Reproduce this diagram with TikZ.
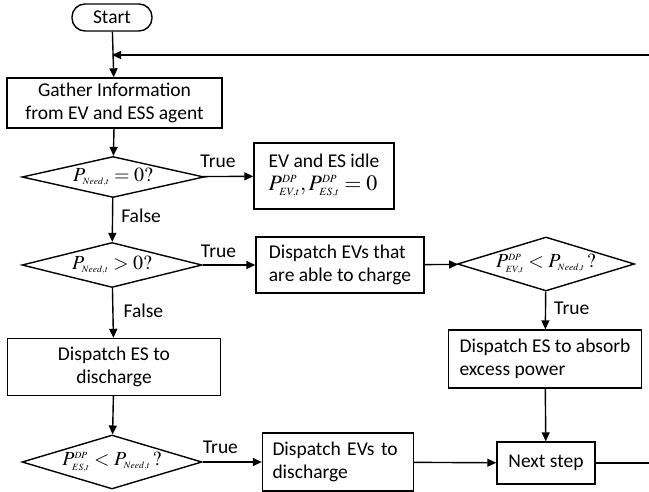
\documentclass[tikz,border=0pt]{standalone}
\usepackage{mathptmx}
\usepackage[no-math]{fontspec}
\setmainfont{Carlito}
\DeclareMathSizes{18}{20}{9.5}{7}
\DeclareMathSizes{19.5}{22}{11}{8}
\usetikzlibrary{shapes.geometric,arrows.meta}
\begin{document}
\begin{tikzpicture}[x=1pt,y=-1pt,
  font=\fontsize{19.5}{23}\selectfont,
  box/.style={draw, line width=1.4pt, inner sep=0pt, align=left},
  cbox/.style={draw, line width=1.4pt, inner sep=0pt, align=center},
  dec/.style={draw, diamond, line width=1.4pt, inner sep=0pt},
  dtext/.style={inner sep=0pt, font=\fontsize{18}{21}\selectfont},
  term/.style={draw, rounded corners=13pt, line width=1.4pt, inner sep=0pt},
  lab/.style={inner sep=0pt},
  arr/.style={-{Triangle[length=9pt,width=8pt]}, line width=1.4pt}]
\useasboundingbox (0,0) rectangle (649,492);

\node[term, minimum width=80pt, minimum height=27pt] (start) at (112,17.5) {Start};
\node[cbox, minimum width=215pt, minimum height=50pt] (gather) at (114.5,103) {Gather Information\\from EV and ESS agent};
\node[dec, minimum width=182pt, minimum height=41pt] (d1) at (113,177) {};
\node[dtext] (d1t) at (d1) {$P_{Need,t} = 0?$};
\node[box, minimum width=140pt, minimum height=66pt] (idle) at (324,176) {EV and ES idle\\$P_{EV,t}^{DP}, P_{ES,t}^{DP} = 0$};
\node[dec, minimum width=180pt, minimum height=45pt] (d2) at (112,265) {};
\node[dtext] (d2t) at (d2) {$P_{Need,t} > 0?$};
\node[box, minimum width=168pt, minimum height=56pt] (evc) at (340,265) {Dispatch EVs that\\are able to charge};
\node[dec, minimum width=177pt, minimum height=54pt] (d3) at (546,264) {};
\node[dtext] (d3t) at (d3) {$P_{EV,t}^{DP} < P_{Need,t}\,?$};
\node[box, minimum width=193pt, minimum height=58pt] (absorb) at (545,359) {Dispatch ES to absorb\\excess power};
\node[cbox, minimum width=213pt, minimum height=57pt] (esd) at (114,367) {Dispatch ES to\\discharge};
\node[dec, minimum width=180pt, minimum height=54pt] (d4) at (112,462) {};
\node[dtext] (d4t) at (d4) {$P_{ES,t}^{DP} < P_{Need,t}\,?$};
\node[box, inner xsep=10pt, text width=131pt, minimum height=58pt] (evd) at (338,462) {Dispatch EVs to\\discharge};
\node[cbox, minimum width=98pt, minimum height=42pt] (next) at (546,463) {Next step};

\coordinate (fbin) at (649,55);
\coordinate (fbend) at (start.south |- fbin);
\coordinate (fbout) at (649,463);

\draw[arr] (start) -- (gather);
\draw[arr] (fbin) -- (fbend);
\draw[arr] (gather) -- (d1);
\draw[arr] (d1) -- node[lab, pos=0.3, above=8pt] {True} (idle);
\draw[arr] (d1) -- node[lab, pos=0.4, right=8pt] {False} (d2);
\draw[arr] (d2) -- node[lab, pos=0.3, above=7pt] {True} (evc);
\draw[arr] (evc) -- (d3);
\draw[arr] (d3) -- node[lab, pos=0.45, right=8pt] {True} (absorb);
\draw[arr] (absorb) -- (next);
\draw[arr] (d2) -- node[lab, pos=0.45, right=10pt] {False} (esd);
\draw[arr] (esd) -- (d4);
\draw[arr] (d4) -- node[lab, pos=0.3, above=8pt] {True} (evd);
\draw[arr] (evd) -- (next);
\draw[line width=1.4pt] (next) -- (fbout);
\end{tikzpicture}
\end{document}
